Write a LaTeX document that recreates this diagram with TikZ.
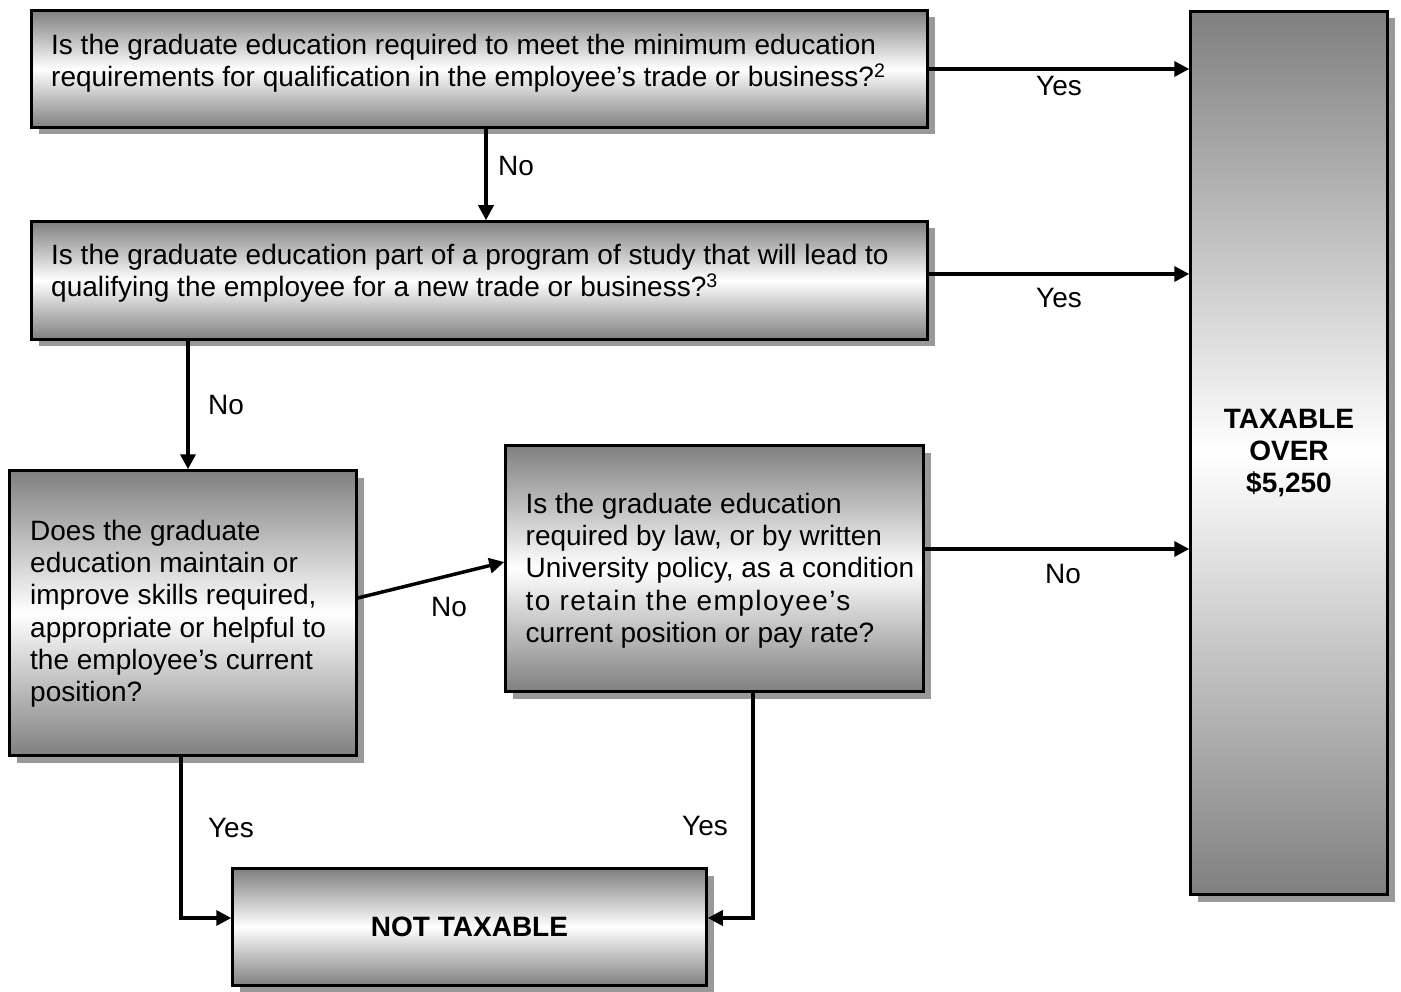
\documentclass[tikz,border=0pt]{standalone}
\usepackage{fontspec}
\setmainfont{Liberation Sans}
\usepackage{tikz}
\usetikzlibrary{arrows.meta}
\usetikzlibrary{shadows}

\begin{document}
\begin{tikzpicture}[x=1pt,y=-1pt,
  font=\fontsize{28}{32.2}\selectfont,
  qbox/.style={draw=black,line width=2.5pt,top color=black!50,bottom color=black!50,middle color=white,
    drop shadow={shadow xshift=7pt,shadow yshift=-7pt,fill=black!40,opacity=1}},
  qtext/.style={anchor=north west,align=left,inner sep=0pt},
  arr/.style={-{Triangle[length=15pt,width=15pt]},line width=3.5pt}]
\useasboundingbox (0,0) rectangle (1401,992);

\node[qbox,minimum width=896pt,minimum height=117pt] (q1) at (479.5,69) {};
\node[qbox,minimum width=896pt,minimum height=118pt] (q2) at (479.5,280.5) {};
\node[qbox,minimum width=347pt,minimum height=285pt] (q3) at (183,613) {};
\node[qbox,minimum width=418pt,minimum height=246pt] (q4) at (714.5,568.5) {};
\node[qbox,minimum width=474pt,minimum height=117pt,font=\fontsize{28}{32.2}\selectfont\bfseries] (nottax) at (469.5,927) {NOT TAXABLE};
\node[qbox,minimum width=197pt,minimum height=883pt,align=center,font=\fontsize{28}{32.2}\selectfont\bfseries] (tax) at (1289,453) {TAXABLE\\OVER\\\$5,250};

\node[qtext] (q1t) at (51,34) {Is the graduate education required to meet the minimum education\\requirements for qualification in the employee’s trade or business?\textsuperscript{2}};
\node[qtext] (q2t) at (51,244) {Is the graduate education part of a program of study that will lead to\\qualifying the employee for a new trade or business?\textsuperscript{3}};
\node[qtext] (q3t) at (30,520) {Does the graduate\\education maintain or\\improve skills required,\\appropriate or helpful to\\the employee’s current\\position?};
\node[qtext] (q4t) at (525.5,493) {Is the graduate education\\required by law, or by written\\University policy, as a condition\\{\addfontfeature{LetterSpace=5}to retain the employee’s}\\current position or pay rate?};

\coordinate (q3in) at ([xshift=5pt]q3.north);

\draw[arr] (q1.east) -- (q1.east -| tax.west) node[midway,below=2pt] {Yes};
\draw[arr] ([xshift=6.5pt]q1.south) -- ([xshift=6.5pt]q2.north) node[pos=0.41,right=7pt] {No};
\draw[arr] ([yshift=6.5pt]q2.east) -- ([yshift=6.5pt]q2.east -| tax.west) node[midway,below=9pt] {Yes};
\draw[arr] (q3in |- q2.south) -- (q3in) node[midway,right=15pt] {No};
\draw[arr] ([yshift=15pt]q3.east) -- ([yshift=6.5pt]q4.west) node[midway,below=12pt,xshift=18pt] {No};
\draw[arr] ([yshift=19.5pt]q4.east) -- ([yshift=19.5pt]q4.east -| tax.west) node[midway,below=10pt,xshift=6pt] {No};
\draw[arr] ([xshift=-2pt]q3.south) |- ([yshift=9pt]nottax.west) node[pos=0.22,right=22pt] {Yes};
\draw[arr] ([xshift=38.5pt]q4.south) |- ([yshift=9pt]nottax.east) node[pos=0.295,left=20pt] {Yes};
\end{tikzpicture}
\end{document}
